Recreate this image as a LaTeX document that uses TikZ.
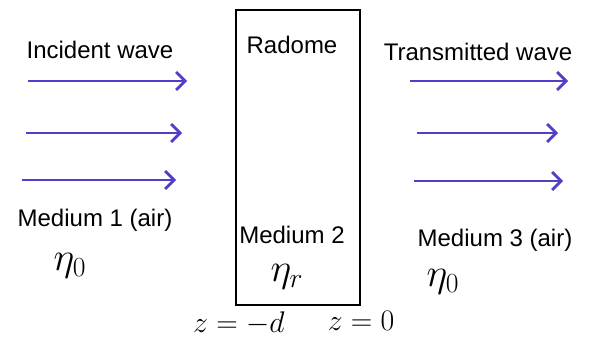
\documentclass[tikz,border=0pt]{standalone}
\usepackage{fontspec}
\setmainfont{Liberation Sans}
\usepackage{tikz}
\usetikzlibrary{arrows.meta, positioning}
\definecolor{wavecol}{HTML}{5040C8}
\newcommand{\bigeta}[1]{\scalebox{1.6}{$\eta_{#1}$}}
\newcommand{\zpos}[1]{\scalebox{1.2}{$z=#1$}}

\begin{document}
\begin{tikzpicture}[
    x=1pt, y=-1pt,
    every node/.style={font=\fontsize{24}{28}\selectfont, inner sep=0pt},
    lbl/.style={anchor=center},
    slabbox/.style={
        rectangle,
        draw=black,
        line width=2.2pt,
        minimum width=124pt,
        minimum height=295pt,
        inner sep=0pt
    },
    wave/.style={line width=2.8pt, -{Straight Barb[length=9pt, width=18pt]}, color=wavecol}
]
\useasboundingbox (0,0) rectangle (597,350);

% the radome slab
\node[slabbox] (slab) at (298,157.5) {};
\node[lbl] (radome) at (292,45) {Radome};
\node[lbl] (med2) at (292,235) {Medium 2};
\node (etar) at (287,277) {\bigeta{r}};
\node[below=5pt of slab.south west, xshift=4pt] (zl) {\zpos{-d}};
\node[below=5pt of slab.south east] (zr) {\zpos{0}};

% medium 1
\node[lbl] (inc) at (100,50) {Incident wave};
\node[lbl] (med1) at (95,220) {Medium 1 (air)};
\node (eta1) at (70,266) {\bigeta{0}};

% medium 3
\node[lbl] (trans) at (478,52) {Transmitted wave};
\node[lbl] (med3) at (495,240) {Medium 3 (air)};
\node (eta3) at (443,282) {\bigeta{0}};

% wave arrows
\coordinate (ia1) at (28,81);  \coordinate (ib1) at (187,81);
\coordinate (ia2) at (26,133); \coordinate (ib2) at (182,133);
\coordinate (ia3) at (22,180); \coordinate (ib3) at (176,180);
\coordinate (ta1) at (410,81);  \coordinate (tb1) at (568,81);
\coordinate (ta2) at (417,133); \coordinate (tb2) at (558,133);
\coordinate (ta3) at (414,181); \coordinate (tb3) at (563,181);

\draw[wave] (ia1) -- (ib1);
\draw[wave] (ia2) -- (ib2);
\draw[wave] (ia3) -- (ib3);
\draw[wave] (ta1) -- (tb1);
\draw[wave] (ta2) -- (tb2);
\draw[wave] (ta3) -- (tb3);

\end{tikzpicture}
\end{document}
